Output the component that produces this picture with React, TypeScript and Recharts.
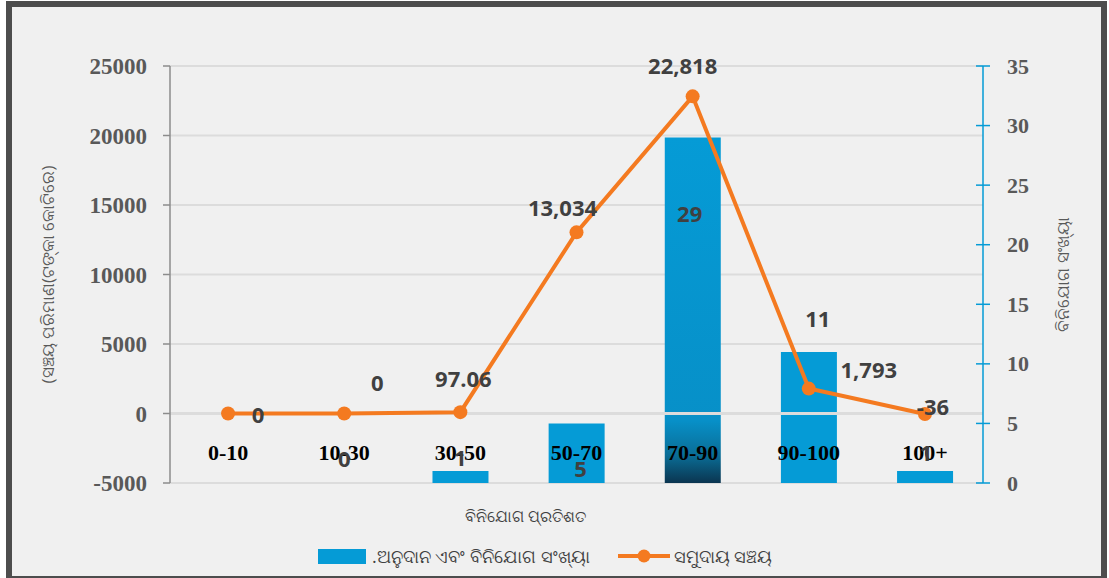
import React from 'react'
import {
  ComposedChart,
  Bar,
  Line,
  XAxis,
  YAxis,
  CartesianGrid,
  Legend,
  LabelList,
  Cell,
  ReferenceLine,
} from 'recharts'

// categories / series
const ranges = ['0-10', '10-30', '30-50', '50-70', '70-90', '90-100', '100+']
const grantCounts = [0, 0, 1, 5, 29, 11, 1]
const totalSavings = [0, 0, 97.06, 13034, 22818, 1793, -36]

// axis ticks
const leftTicks = [-5000, 0, 5000, 10000, 15000, 20000, 25000]
const rightTicks = [0, 5, 10, 15, 20, 25, 30, 35]

// texts
const barName = '.ଅନୁଦାନ ଏବଂ ବିନିଯୋଗ ସଂଖ୍ୟା'
const lineName = 'ସମୁଦାୟ ସଞ୍ଚୟ'
const xTitle = 'ବିନିଯୋଗ ପ୍ରତିଶତ'
const leftTitle = '(ସଞ୍ଚୟ ପରିମାଣ(ଟଙ୍କା କୋଟିରେ)'
const rightTitle = 'ବିନିଯୋଗ ସଂଖ୍ୟା'

// label nudges (px), same order as categories; null = label not shown
const lineLabelShift = [[30, 0], [33, -32], [3, -34], [-14, -25], [-10, -31], [60, -20], [8, -8]]
const barLabelShift = [null, [0, -25], [0, -14], [4, 45], [-3, 76], [9, -34], [1, -19]]

const BLUE = '#059bd6'
const ORANGE = '#f47a20'
const AXIS_TEXT = '#595959'
const LABEL_TEXT = '#404040'
const SERIF = '"Liberation Serif", "Times New Roman", serif'
const SANS = '"Open Sans", "Noto Sans", sans-serif'

const data = ranges.map((range, i) => ({
  range,
  count: grantCounts[i],
  savings: totalSavings[i],
}))

const fmt = (v: number) => v.toLocaleString('en-US', { maximumFractionDigits: 2 })

const RightTick = (props: any) => {
  const { x, y, payload } = props
  const axisX = x - 24
  return (
    <g>
      <line x1={axisX - 7} x2={axisX + 7} y1={y} y2={y} stroke={BLUE} strokeWidth={1.5} />
      <text
        x={x}
        y={y}
        textAnchor="start"
        dominantBaseline="central"
        fill={AXIS_TEXT}
        fontFamily={SERIF}
        fontWeight={700}
        fontSize={22}
      >
        {payload.value}
      </text>
    </g>
  )
}

const CategoryTick = (props: any) => {
  const { x, y, payload } = props
  return (
    <text
      x={x}
      y={y - 31}
      textAnchor="middle"
      dominantBaseline="central"
      fill="#000"
      fontFamily={SERIF}
      fontWeight={700}
      fontSize={22}
    >
      {payload.value}
    </text>
  )
}

// point labels; x/y are the point position on the series' own axis
const makePointLabel = (shift: (number[] | null)[]) => (props: any) => {
  const { x, y, value, index } = props
  const s = shift[index]
  if (!s) return null
  const [dx, dy] = s
  return (
    <text
      x={x + dx}
      y={y + dy}
      textAnchor="middle"
      dominantBaseline="central"
      fill={LABEL_TEXT}
      fontFamily={SANS}
      fontWeight={700}
      fontSize={22}
    >
      {fmt(value)}
    </text>
  )
}
const LineValueLabel = makePointLabel(lineLabelShift)
const BarValueLabel = makePointLabel(barLabelShift)

const ChartLegend = () => (
  <div
    style={{
      display: 'flex',
      alignItems: 'center',
      fontFamily: SANS,
      fontSize: 18,
      color: LABEL_TEXT,
      whiteSpace: 'nowrap',
    }}
  >
    <span style={{ display: 'inline-block', width: 48, height: 15, background: BLUE, marginRight: 6 }} />
    <span>{barName}</span>
    <svg width={52} height={16} style={{ marginLeft: 28, marginRight: 4 }}>
      <line x1={0} x2={52} y1={8} y2={8} stroke={ORANGE} strokeWidth={4} />
      <circle cx={26} cy={8} r={6.5} fill={ORANGE} />
    </svg>
    <span>{lineName}</span>
  </div>
)

export default function App() {
  return (
    <div
      style={{
        position: 'absolute',
        left: 0,
        top: 0,
        width: 1109,
        height: 578,
        background: '#fff',
        overflow: 'hidden',
      }}
    >
      <div
        style={{
          position: 'absolute',
          left: 6,
          top: 1,
          width: 1101,
          height: 581,
          border: '6px solid #4d4d4d',
          background: '#f0f0f0',
          boxSizing: 'border-box',
        }}
      />
      <div style={{ position: 'absolute', left: 0, top: 0 }}>
        <ComposedChart
          width={1109}
          height={578}
          data={data}
          margin={{ top: 66, right: 26, left: 70, bottom: 65 }}
          barCategoryGap="26%"
        >
          <defs>
            <linearGradient id="peakBar" x1="0" y1="0" x2="0" y2="1">
              <stop offset="0%" stopColor={BLUE} />
              <stop offset="82%" stopColor="#0790c8" />
              <stop offset="92%" stopColor="#0a6d96" />
              <stop offset="100%" stopColor="#0b3550" />
            </linearGradient>
          </defs>
          <CartesianGrid yAxisId="left" vertical={false} stroke="#dcdcdc" strokeWidth={2} />
          <XAxis
            dataKey="range"
            axisLine={false}
            tickLine={false}
            tickSize={0}
            tickMargin={0}
            height={30}
            tick={<CategoryTick />}
            interval={0}
            label={{
              value: xTitle,
              position: 'bottom',
              offset: -2,
              dx: -51,
              fill: LABEL_TEXT,
              fontSize: 16,
              fontFamily: SANS,
            }}
          />
          <YAxis
            yAxisId="left"
            orientation="left"
            width={100}
            domain={[-5000, 25000]}
            ticks={leftTicks}
            interval={0}
            axisLine={{ stroke: '#8c8c8c', strokeWidth: 1.5 }}
            tickLine={{ stroke: '#8c8c8c', strokeWidth: 1.5 }}
            tickSize={7}
            tickMargin={16}
            tick={{ fill: AXIS_TEXT, fontSize: 23, fontFamily: SERIF, fontWeight: 700 }}
            label={{
              value: leftTitle,
              angle: -90,
              position: 'center',
              dx: -72,
              fill: AXIS_TEXT,
              fontSize: 17,
              fontFamily: SANS,
            }}
          />
          <YAxis
            yAxisId="right"
            orientation="right"
            width={100}
            domain={[0, 35]}
            ticks={rightTicks}
            interval={0}
            axisLine={{ stroke: BLUE, strokeWidth: 1.5 }}
            tickLine={false}
            tickSize={7}
            tickMargin={17}
            tick={<RightTick />}
            label={{
              value: rightTitle,
              angle: -90,
              position: 'center',
              dx: 30,
              fill: AXIS_TEXT,
              fontSize: 17,
              fontFamily: SANS,
            }}
          />
          <Legend
            verticalAlign="middle"
            align="center"
            wrapperStyle={{ top: 544, left: 318, width: 600, height: 24 }}
            content={<ChartLegend />}
          />
          <Bar yAxisId="right" dataKey="count" name={barName} fill={BLUE} isAnimationActive={false}>
            {data.map((d, i) => (
              <Cell key={`cell-${i}`} fill={d.count === Math.max(...grantCounts) ? 'url(#peakBar)' : BLUE} />
            ))}
          </Bar>
          <ReferenceLine yAxisId="left" y={0} stroke="#dcdcdc" strokeWidth={3} />
          {/* invisible carrier for the bar value labels, so zero bars get a label too */}
          <Line
            yAxisId="right"
            dataKey="count"
            stroke="none"
            dot={false}
            activeDot={false}
            legendType="none"
            isAnimationActive={false}
          >
            <LabelList dataKey="count" content={BarValueLabel} />
          </Line>
          <Line
            yAxisId="left"
            dataKey="savings"
            name={lineName}
            stroke={ORANGE}
            strokeWidth={4}
            dot={{ r: 7, fill: ORANGE, stroke: ORANGE, strokeWidth: 0 }}
            activeDot={false}
            isAnimationActive={false}
          >
            <LabelList dataKey="savings" content={LineValueLabel} />
          </Line>
        </ComposedChart>
      </div>
    </div>
  )
}
